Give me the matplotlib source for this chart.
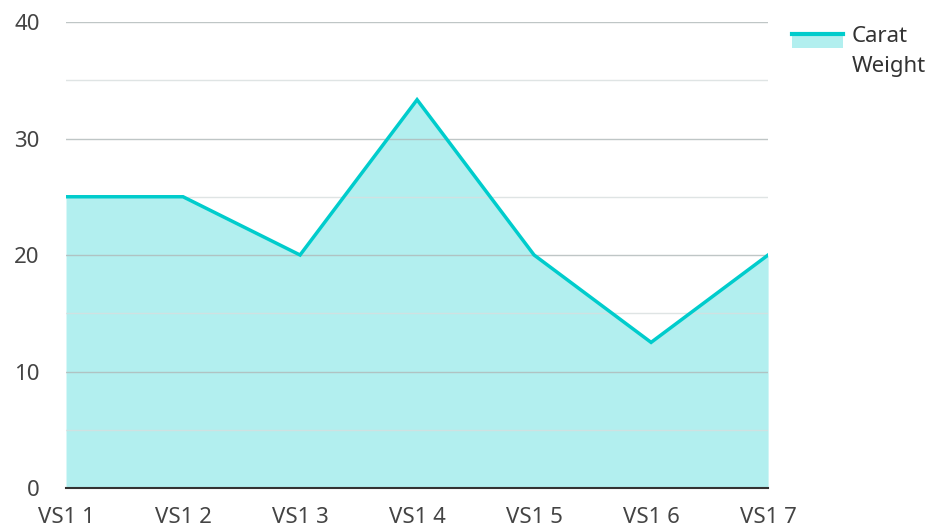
import numpy as np
import matplotlib.pyplot as plt
from matplotlib.patches import Rectangle
from matplotlib.lines import Line2D
from matplotlib.legend_handler import HandlerBase

plt.rcParams['font.family'] = ['Noto Sans', 'DejaVu Sans']

#data
categories = ["VS1 1", "VS1 2", "VS1 3", "VS1 4", "VS1 5", "VS1 6", "VS1 7"]
carat_weight = [25, 25, 20, 33.33, 20, 12.5, 20]
y_ticks = [0, 10, 20, 30, 40]

line_color = "#00CCCC"
fill_color = "#00CCCC"


#legend key: filled box with the line along its top edge,
#lifted so it sits next to the first line of the label
class AreaHandler(HandlerBase):
    def create_artists(self, legend, orig_handle, xdescent, ydescent,
                       width, height, fontsize, trans):
        lift = 0.5 * fontsize
        box = Rectangle((-xdescent, -ydescent + lift), width, height,
                        facecolor=fill_color, alpha=0.3, lw=0, transform=trans)
        top = Line2D([-xdescent, -xdescent + width],
                     [-ydescent + height + lift, -ydescent + height + lift],
                     color=line_color, lw=3, transform=trans)
        return [box, top]


fig = plt.figure(figsize=(9.39, 5.29), dpi=100)
ax = fig.add_axes([0.0703, 0.0775, 0.818 - 0.0703, 0.9584 - 0.0775])

x = np.arange(len(categories))
ax.fill_between(x, carat_weight, 0, color=fill_color, alpha=0.3, lw=0, zorder=1)
ax.plot(x, carat_weight, color=line_color, lw=2.5, zorder=3, solid_joinstyle="miter")

#grid
ax.set_ylim(0, 40)
ax.set_xlim(0, len(categories) - 1)
ax.set_yticks(y_ticks)
ax.set_yticks(np.arange(5, 40, 10), minor=True)
ax.grid(axis="y", which="major", color="#b0b8b8", lw=1, zorder=2, alpha=0.8)
ax.grid(axis="y", which="minor", color="#d8dede", lw=1, zorder=2, alpha=0.8)
ax.set_axisbelow(False)

ax.set_xticks(x)
ax.set_xticklabels(categories)
ax.tick_params(axis="both", which="both", length=0, labelsize=16, colors="#444444")
ax.tick_params(axis="x", pad=14)
ax.tick_params(axis="y", pad=19)

for s in ["top", "right", "left"]:
    ax.spines[s].set_visible(False)
ax.spines["bottom"].set_color("#333333")
ax.spines["bottom"].set_linewidth(1.5)
ax.spines["bottom"].set_zorder(4)

#legend
leg = fig.legend([Rectangle((0, 0), 1, 1)], ["Carat\nWeight"], loc="upper left",
                 bbox_to_anchor=(0.822, 0.989), frameon=False, fontsize=16,
                 handlelength=2.3, handleheight=0.6, handletextpad=0.4,
                 labelcolor="#333333", handler_map={Rectangle: AreaHandler()})
for t in leg.get_texts():
    t.set_linespacing(1.6)

plt.savefig("out.png", dpi=100)
